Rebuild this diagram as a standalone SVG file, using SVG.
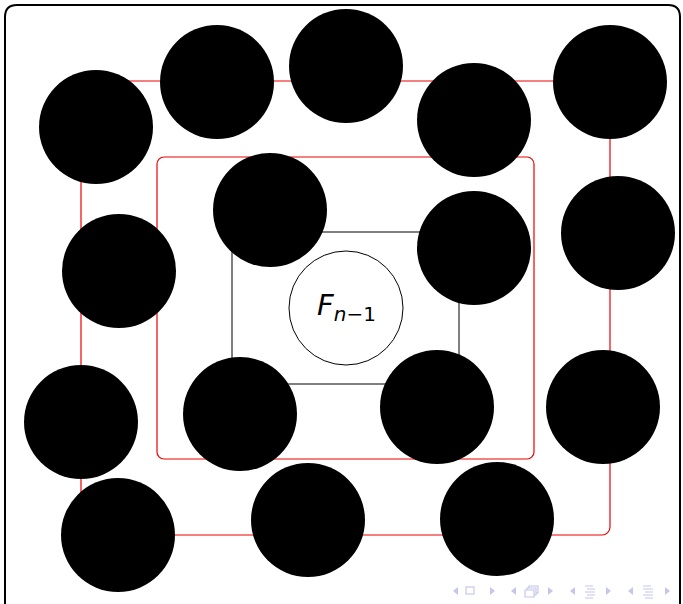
<svg xmlns="http://www.w3.org/2000/svg" width="683" height="604" viewBox="0 0 683 604">
<style>
.frame{fill:none;stroke:#000;stroke-width:2}
.red{fill:none;stroke:#e00;stroke-width:1.2}
.blk{fill:none;stroke:#000;stroke-width:1}
.node circle{fill:#000}
.nav{fill:#c6c6ec;stroke:none}
.navs{fill:none;stroke:#c6c6ec;stroke-width:1.2}
text{font-family:"DejaVu Sans","Liberation Sans",sans-serif}
</style>
<rect width="683" height="604" fill="#fff"/>
<path class="frame" d="M5,620 V17 Q5,5 17,5 H668 Q680,5 680,17 V620"/>
<g id="connectors">
<rect class="red" x="81" y="81" width="529" height="454" rx="8"/>
<rect class="red" x="157" y="157" width="377" height="302" rx="7"/>
<rect class="blk" x="232" y="232" width="227" height="152"/>
</g>
<g id="center"><circle cx="346" cy="308" r="57" fill="#fff" stroke="#000" stroke-width="1"/>
<text x="317" y="315" font-size="29" font-style="italic">F<tspan font-size="20" dy="6">n</tspan><tspan font-size="20" font-style="normal">−1</tspan></text></g>
<g class="node" id="n1"><circle cx="96" cy="127" r="57"/></g>
<g class="node" id="n2"><circle cx="217" cy="82" r="57"/></g>
<g class="node" id="n3"><circle cx="346" cy="66" r="57"/></g>
<g class="node" id="n4"><circle cx="474" cy="120" r="57"/></g>
<g class="node" id="n5"><circle cx="610" cy="82" r="57"/></g>
<g class="node" id="n6"><circle cx="119" cy="271" r="57"/></g>
<g class="node" id="n7"><circle cx="270" cy="210" r="57"/></g>
<g class="node" id="n8"><circle cx="474" cy="248" r="57"/></g>
<g class="node" id="n9"><circle cx="618" cy="233" r="57"/></g>
<g class="node" id="n10"><circle cx="81" cy="422" r="57"/></g>
<g class="node" id="n11"><circle cx="240" cy="414" r="57"/></g>
<g class="node" id="n12"><circle cx="437" cy="407" r="57"/></g>
<g class="node" id="n13"><circle cx="603" cy="407" r="57"/></g>
<g class="node" id="n14"><circle cx="118" cy="535" r="57"/></g>
<g class="node" id="n15"><circle cx="308" cy="520" r="57"/></g>
<g class="node" id="n16"><circle cx="497" cy="519" r="57"/></g>
<g id="nav">
<polygon class="nav" points="458,587 458,595 453,591"/>
<rect class="navs" x="466" y="587" width="8" height="7"/>
<polygon class="nav" points="490,587 490,595 495,591"/>
<polygon class="nav" points="516,587 516,595 511,591"/>
<path class="navs" d="M525,597 h9 v-7 h-9 z M527,590 v-2 h9 v7 h-2 M529,588 v-2 h9 v7 h-2"/>
<polygon class="nav" points="548,587 548,595 553,591"/>
<polygon class="nav" points="575,587 575,595 570,591"/>
<path class="navs" d="M585,586 h8 M587,589 h8 M585,592 h10 M587,595 h8 M585,598 h8"/>
<polygon class="nav" points="606,587 606,595 611,591"/>
<polygon class="nav" points="633,587 633,595 628,591"/>
<path class="navs" d="M643,586 h8 M643,589 h10 M645,592 h8 M643,595 h10 M645,598 h8"/>
<polygon class="nav" points="665,587 665,595 670,591"/>
</g>
</svg>
